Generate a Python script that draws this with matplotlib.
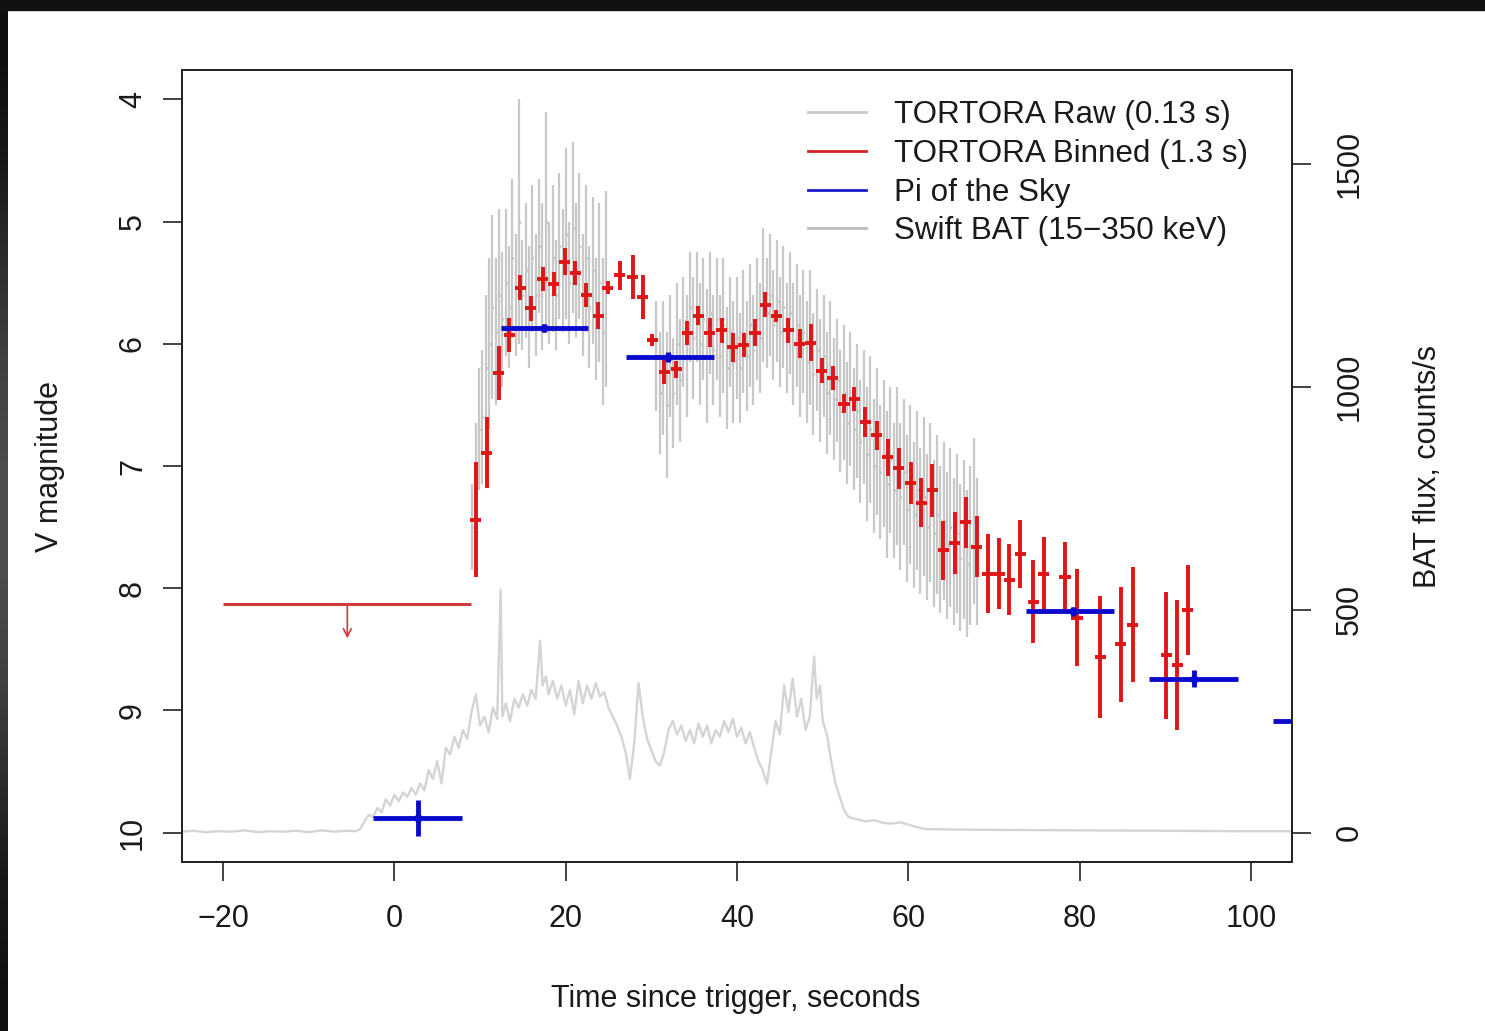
import numpy as np
import matplotlib.pyplot as plt
from matplotlib.lines import Line2D
from matplotlib.patches import Rectangle

plt.rcParams['font.family'] = ['Liberation Sans', 'DejaVu Sans']
plt.rcParams['font.size'] = 22

# Swift BAT light curve (15-350 keV), counts/s
bat_t = [-25, -23.5, -22, -20.5, -19, -17.5, -16, -14.5, -13, -11.5,
         -10, -8.5, -7, -5.5, -4.5, -4, -3.5, -3, -2.5, -2,
         -1.5, -1, -0.5, 0, 0.5, 1, 1.5, 2, 2.5, 3,
         3.5, 4, 4.5, 5, 5.5, 6, 6.5, 7, 7.5, 8,
         8.5, 9, 9.5, 10, 10.5, 11, 11.5, 12, 12.4, 12.6,
         13, 13.5, 14, 14.5, 15, 15.5, 16, 16.5, 17, 17.3,
         17.7, 18, 18.5, 19, 19.5, 20, 20.5, 21, 21.5, 22,
         22.5, 23, 23.5, 24, 24.5, 25, 25.5, 26, 26.5, 27,
         27.5, 28, 28.5, 29, 29.5, 30, 30.5, 31, 31.5, 32,
         32.5, 33, 33.5, 34, 34.5, 35, 35.5, 36, 36.5, 37,
         37.5, 38, 38.5, 39, 39.5, 40, 40.5, 41, 41.5, 42,
         42.5, 43, 43.5, 44, 44.5, 45, 45.5, 46, 46.5, 47,
         47.5, 48, 48.5, 49, 49.3, 49.7, 50, 50.5, 51, 51.5,
         52, 52.5, 53, 54, 55, 56, 57, 58, 59, 60,
         61, 62, 65, 70, 80, 90, 100, 105]
bat_cts = [2, 4, 1, 3, 2, 5, 1, 3, 2, 4,
           1, 5, 2, 4, 3, 8, 25, 40, 35, 55,
           45, 75, 60, 85, 70, 90, 80, 100, 85, 110,
           95, 140, 120, 160, 110, 190, 175, 215, 190, 230,
           210, 270, 310, 240, 260, 225, 280, 255, 545, 260,
           290, 250, 300, 280, 310, 285, 320, 300, 430, 330,
           350, 310, 340, 300, 330, 285, 320, 265, 340, 290,
           330, 300, 335, 305, 315, 280, 260, 240, 215, 180,
           120, 200, 335, 260, 210, 185, 160, 150, 180, 230,
           250, 220, 240, 205, 230, 200, 245, 215, 240, 200,
           230, 215, 250, 225, 255, 215, 235, 200, 225, 190,
           160, 140, 110, 180, 250, 220, 330, 270, 345, 260,
           300, 230, 260, 395, 300, 330, 250, 220, 160, 110,
           80, 50, 35, 30, 25, 28, 22, 20, 23, 18,
           12, 8, 7, 6, 5, 4, 3, 3]

# TORTORA raw photometry (every third 0.13 s frame), two stretches
raw_cadence = 0.39
raw_start = [9.1, 30.6]
raw_mag_a = [7.5, 7.1, 6.7, 6.6, 6.2, 6.0, 5.7, 5.9, 5.6, 5.8,
             5.5, 5.7, 5.3, 5.6, 5.0, 5.6, 5.4, 5.7, 5.3, 5.6,
             5.2, 5.45, 5.0, 5.5, 5.3, 5.6, 5.2, 5.4, 5.1, 5.5,
             5.05, 5.4, 5.2, 5.6, 5.3, 5.7, 5.4, 5.8, 5.5, 5.9, 5.55]
raw_err_a = [0.35, 0.45, 0.5, 0.55, 0.6, 0.7, 0.75, 0.6, 0.7, 0.55,
             0.6, 0.5, 0.65, 0.5, 1.0, 0.45, 0.55, 0.5, 0.6, 0.5,
             0.55, 0.6, 0.9, 0.5, 0.6, 0.45, 0.6, 0.5, 0.7, 0.5,
             0.7, 0.55, 0.6, 0.5, 0.6, 0.5, 0.6, 0.5, 0.65, 0.6, 0.8]
raw_mag_b = [6.1, 6.4, 6.2, 6.5, 6.1, 6.4, 6.0, 6.3, 5.9, 6.1,
             5.7, 5.95, 5.7, 6.0, 5.8, 6.1, 5.75, 6.05, 5.8, 6.1,
             5.85, 6.2, 5.9, 6.15, 5.95, 6.2, 5.9, 6.1, 5.85, 6.05,
             5.8, 5.95, 5.6, 5.75, 5.6, 5.85, 5.65, 5.9, 5.7, 5.95,
             5.75, 6.0, 5.85, 6.1, 5.9, 6.15, 5.95, 6.25, 6.05, 6.3,
             6.1, 6.4, 6.2, 6.45, 6.3, 6.55, 6.4, 6.65, 6.45, 6.7,
             6.55, 6.8, 6.6, 6.9, 6.7, 7.0, 6.8, 7.05, 6.9, 7.15,
             6.95, 7.2, 7.0, 7.25, 7.05, 7.35, 7.15, 7.4, 7.2, 7.45,
             7.25, 7.5, 7.3, 7.55, 7.4, 7.6, 7.45, 7.65, 7.5, 7.7,
             7.55, 7.75, 7.6, 7.8, 7.65, 7.45, 7.7]
raw_err_b = [0.45, 0.5, 0.55, 0.6, 0.5, 0.45, 0.5, 0.5, 0.45, 0.5,
             0.45, 0.5, 0.45, 0.5, 0.5, 0.55, 0.5, 0.45, 0.5, 0.5,
             0.55, 0.5, 0.45, 0.5, 0.5, 0.45, 0.5, 0.45, 0.5, 0.45,
             0.5, 0.45, 0.55, 0.45, 0.5, 0.45, 0.5, 0.45, 0.5, 0.45,
             0.5, 0.5, 0.5, 0.5, 0.5, 0.5, 0.55, 0.5, 0.5, 0.5,
             0.5, 0.5, 0.55, 0.5, 0.5, 0.5, 0.55, 0.5, 0.55, 0.5,
             0.55, 0.5, 0.55, 0.55, 0.6, 0.55, 0.6, 0.55, 0.6, 0.6,
             0.6, 0.55, 0.65, 0.6, 0.6, 0.6, 0.65, 0.6, 0.65, 0.6,
             0.65, 0.6, 0.65, 0.6, 0.65, 0.6, 0.65, 0.6, 0.65, 0.6,
             0.65, 0.6, 0.65, 0.6, 0.65, 0.68, 0.6]

# TORTORA binned (1.3 s)
bin_t = [9.5, 10.8, 12.2, 13.4, 14.7, 15.9, 17.3, 18.6, 19.9, 21.1,
         22.4, 23.8, 24.9, 26.3, 27.8, 29.0, 30.1, 31.5, 32.9, 34.2,
         35.5, 36.8, 38.2, 39.5, 40.8, 42.1, 43.3, 44.6, 46.0, 47.3,
         48.6, 49.9, 51.2, 52.5, 53.7, 55.0, 56.3, 57.6, 58.9, 60.3,
         61.5, 62.8, 64.1, 65.4, 66.7, 68.0, 69.3, 70.6, 71.8, 73.1,
         74.6, 75.8, 78.3, 79.7, 82.4, 84.8, 86.2, 90.1, 91.4, 92.6]
bin_mag = [7.44, 6.89, 6.24, 5.93, 5.54, 5.71, 5.47, 5.51, 5.33, 5.42,
           5.60, 5.77, 5.54, 5.44, 5.45, 5.62, 5.97, 6.23, 6.21, 5.91,
           5.77, 5.91, 5.89, 6.03, 6.01, 5.91, 5.68, 5.77, 5.89, 6.00,
           5.99, 6.22, 6.28, 6.49, 6.45, 6.64, 6.75, 6.93, 7.02, 7.14,
           7.30, 7.20, 7.69, 7.63, 7.46, 7.66, 7.88, 7.88, 7.93, 7.72,
           8.11, 7.88, 7.91, 8.24, 8.56, 8.46, 8.30, 8.55, 8.63, 8.18]
bin_err = [0.47, 0.29, 0.22, 0.14, 0.10, 0.10, 0.10, 0.10, 0.11, 0.10,
           0.10, 0.11, 0.05, 0.12, 0.18, 0.18, 0.05, 0.10, 0.07, 0.10,
           0.08, 0.12, 0.10, 0.12, 0.10, 0.11, 0.10, 0.05, 0.10, 0.12,
           0.15, 0.10, 0.10, 0.08, 0.10, 0.12, 0.12, 0.15, 0.17, 0.17,
           0.20, 0.22, 0.24, 0.25, 0.21, 0.25, 0.32, 0.29, 0.29, 0.28,
           0.34, 0.30, 0.29, 0.40, 0.50, 0.47, 0.47, 0.52, 0.53, 0.37]
bin_halfwidth = 0.65

# Pi of the Sky (10 s exposures)
pi_t = [2.75, 17.5, 32.0, 79.2, 93.3, 107.8]
pi_mag = [9.88, 5.87, 6.11, 8.19, 8.74, 9.09]
pi_left = [5.2, 5.0, 5.0, 5.5, 5.2, 5.2]
pi_right = [5.2, 5.16, 5.3, 4.8, 5.2, 5.2]
pi_err = [0.15, 0.03, 0.04, 0.04, 0.07, 0.04]

# TORTORA upper limit before the burst
ul_t = -5.5
ul_halfwidth = 14.5
ul_mag = 8.13
ul_arrow = 0.28

raw_t = np.concatenate([raw_start[0] + raw_cadence * np.arange(len(raw_mag_a)),
                        raw_start[1] + raw_cadence * np.arange(len(raw_mag_b))])
raw_mag = raw_mag_a + raw_mag_b
raw_err = raw_err_a + raw_err_b

W, H = 1485, 1031
fig = plt.figure(figsize=(W / 100, H / 100), dpi=100)
fig.patch.set_facecolor('white')

# dark frame from the screenshot
fig.add_artist(Rectangle((0, 1 - 10 / H), 1, 10 / H, transform=fig.transFigure,
                         color='#111111', zorder=10))
strip = fig.add_axes([0, 0, 8 / W, 1 - 10 / H])
grad = np.array([0.06, 0.1, 0.18, 0.26, 0.3, 0.3, 0.26, 0.18, 0.1, 0.07])[:, None]
strip.imshow(grad, aspect='auto', cmap='gray', vmin=0, vmax=1, interpolation='bilinear')
strip.axis('off')

ax = fig.add_axes([182 / W, 1 - 862 / H, 1110 / W, 792 / H])
ax2 = ax.twinx()
ax.set_zorder(ax2.get_zorder() + 1)
ax.patch.set_visible(False)

ax2.plot(bat_t, bat_cts, color='#d4d4d4', lw=1.7)
ax2.set_ylim(-66, 1710)
ax2.set_yticks([0, 500, 1000, 1500])

ax.errorbar(raw_t, raw_mag, yerr=raw_err, fmt='o', ms=1.5, color='#c8c8c8',
            elinewidth=1.6, capsize=0, zorder=2)
ax.errorbar(bin_t, bin_mag, xerr=bin_halfwidth, yerr=bin_err, fmt='none',
            ecolor='#e01515', elinewidth=2.8, capsize=0, zorder=3)
ax.errorbar(pi_t, pi_mag, xerr=[pi_left, pi_right], yerr=pi_err, fmt='o', ms=5,
            color='#0a0acc', elinewidth=3.5, capsize=0, zorder=4)
ax.errorbar([ul_t], [ul_mag], xerr=ul_halfwidth, fmt='none', ecolor='#cf3b3b',
            elinewidth=2.2, capsize=0, zorder=3)
ax.annotate('', xy=(ul_t, ul_mag + ul_arrow), xytext=(ul_t, ul_mag),
            arrowprops=dict(arrowstyle='->', color='#cf3b3b', lw=1.2,
                            shrinkA=0, shrinkB=0, mutation_scale=14))

ax.set_xlim(-24.8, 104.8)
ax.set_ylim(10.24, 3.76)
ax.set_xticks([-20, 0, 20, 40, 60, 80, 100])
ax.set_yticks([4, 5, 6, 7, 8, 9, 10])

for a in (ax, ax2):
    for s in a.spines.values():
        s.set_linewidth(1.3)
        s.set_color('#222222')
ax.tick_params(axis='both', length=13.5, width=1.2, color='#222222', labelcolor='#1a1a1a')
ax.tick_params(axis='x', pad=17)
ax.tick_params(axis='y', pad=11, labelrotation=90)
ax2.tick_params(axis='y', length=13.5, width=1.2, color='#222222', labelcolor='#1a1a1a',
                pad=17, labelrotation=90)
for lab in ax.get_yticklabels() + ax2.get_yticklabels():
    lab.set_va('center')

ax.set_xlabel('Time since trigger, seconds', va='center', color='#1a1a1a')
ax.xaxis.set_label_coords(0.499, -137 / 792)
ax.set_ylabel('V magnitude', va='center', color='#1a1a1a')
ax.yaxis.set_label_coords((50 - 182) / 1110, 0.5)
ax2.set_ylabel('BAT flux, counts/s', va='center', color='#1a1a1a')
ax2.yaxis.set_label_coords((1428 - 182) / 1110, 0.5)

handles = [Line2D([], [], color='#c8c8c8', lw=2),
           Line2D([], [], color='#d42020', lw=2),
           Line2D([], [], color='#1a1acc', lw=2),
           Line2D([], [], color='#bdbdbd', lw=2)]
labels = ['TORTORA Raw (0.13 s)', 'TORTORA Binned (1.3 s)', 'Pi of the Sky',
          'Swift BAT (15\u2212350 keV)']
leg = ax.legend(handles, labels, loc='upper left',
                bbox_to_anchor=((808 - 182) / 1110, (862 - 100) / 792),
                frameon=False, borderpad=0, borderaxespad=0, handlelength=1.85,
                handletextpad=0.9, labelspacing=0.28, fontsize=22.6)
for txt in leg.get_texts():
    txt.set_color('#1a1a1a')

fig.savefig('out.png', dpi=100)
